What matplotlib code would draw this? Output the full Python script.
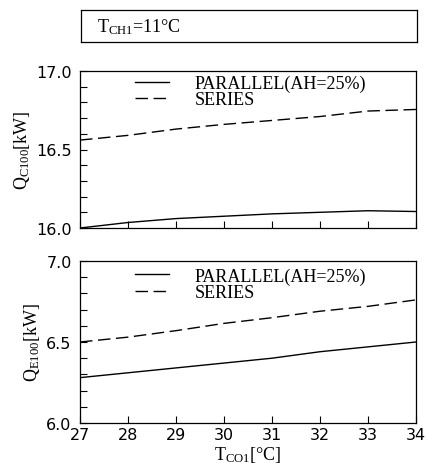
import matplotlib
matplotlib.use("Agg")
import matplotlib.pyplot as plt
from matplotlib.ticker import MultipleLocator, NullFormatter

plt.rcParams['mathtext.fontset'] = 'custom'
plt.rcParams['mathtext.rm'] = 'Liberation Serif'
plt.rcParams['mathtext.it'] = 'Liberation Serif:italic'

x_temp = [27, 28, 29, 30, 31, 32, 33, 34]
qc_parallel = [16.00, 16.035, 16.06, 16.075, 16.09, 16.10, 16.11, 16.105]
qc_series = [16.56, 16.59, 16.63, 16.66, 16.685, 16.71, 16.745, 16.755]
qe_parallel = [6.28, 6.31, 6.34, 6.37, 6.40, 6.44, 6.47, 6.50]
qe_series = [6.50, 6.53, 6.57, 6.615, 6.65, 6.69, 6.72, 6.76]
label_parallel = "PARALLEL(AH=25%)"
label_series = "SERIES"

W, H = 427, 464
fig = plt.figure(figsize=(W / 100, H / 100), dpi=100)

serif = 'Liberation Serif'
sans = 'DejaVu Sans'
dash = (0, (9, 4))
lw = 1.0
fs = 13

# title box
axb = fig.add_axes([81 / W, 1 - 43 / H, 336 / W, 32 / H])
axb.set_xticks([]); axb.set_yticks([])
for s in axb.spines.values():
    s.set_linewidth(0.9)
axb.text(0.048, 0.5, r"$\mathrm{T_{CH1}}$=11°C", family=serif, fontsize=fs,
         va='center', ha='left', transform=axb.transAxes)

def style(ax, ylo, yhi, xlabels):
    ax.set_xlim(27, 34)
    ax.set_ylim(ylo, yhi)
    ax.xaxis.set_major_locator(MultipleLocator(1))
    ax.yaxis.set_major_locator(MultipleLocator(0.5))
    ax.yaxis.set_minor_locator(MultipleLocator(0.1))
    ax.tick_params(axis='both', which='both', direction='in', length=5, width=0.8,
                   top=False, right=False, labelsize=11.5)
    ax.tick_params(axis='y', pad=6)
    ax.yaxis.set_major_formatter(plt.FormatStrFormatter('%.1f'))
    for lab in ax.get_yticklabels() + ax.get_xticklabels():
        lab.set_family(sans)
    if not xlabels:
        ax.xaxis.set_major_formatter(NullFormatter())
    for s in ax.spines.values():
        s.set_linewidth(0.9)

legkw = dict(loc='upper left', frameon=False, borderpad=0, borderaxespad=0,
             handlelength=1.9, handletextpad=1.4, labelspacing=-0.05,
             prop={'family': serif, 'size': fs})

ax1 = fig.add_axes([80 / W, 1 - 229 / H, 336 / W, 157 / H])
ax1.plot(x_temp, qc_parallel, color='black', lw=lw, label=label_parallel)
ax1.plot(x_temp, qc_series, color='black', lw=lw, linestyle=dash, label=label_series)
style(ax1, 16.0, 17.0, False)
ax1.set_ylabel(r"$\mathrm{Q_{C100}}$[kW]", family=serif, fontsize=fs, labelpad=3)
ax1.legend(bbox_to_anchor=(0.164, 0.975), **legkw)

ax2 = fig.add_axes([80 / W, 1 - 424 / H, 336 / W, 162 / H])
ax2.plot(x_temp, qe_parallel, color='black', lw=lw, label=label_parallel)
ax2.plot(x_temp, qe_series, color='black', lw=lw, linestyle=dash, label=label_series)
style(ax2, 6.0, 7.0, True)
ax2.tick_params(axis='x', pad=3)
ax2.set_ylabel(r"$\mathrm{Q_{E100}}$[kW]", family=serif, fontsize=fs, labelpad=3)
ax2.set_xlabel(r"$\mathrm{T_{CO1}}$[°C]", family=serif, fontsize=fs, labelpad=1)
ax2.legend(bbox_to_anchor=(0.164, 0.96), **legkw)

fig.savefig("out.png", dpi=100)
